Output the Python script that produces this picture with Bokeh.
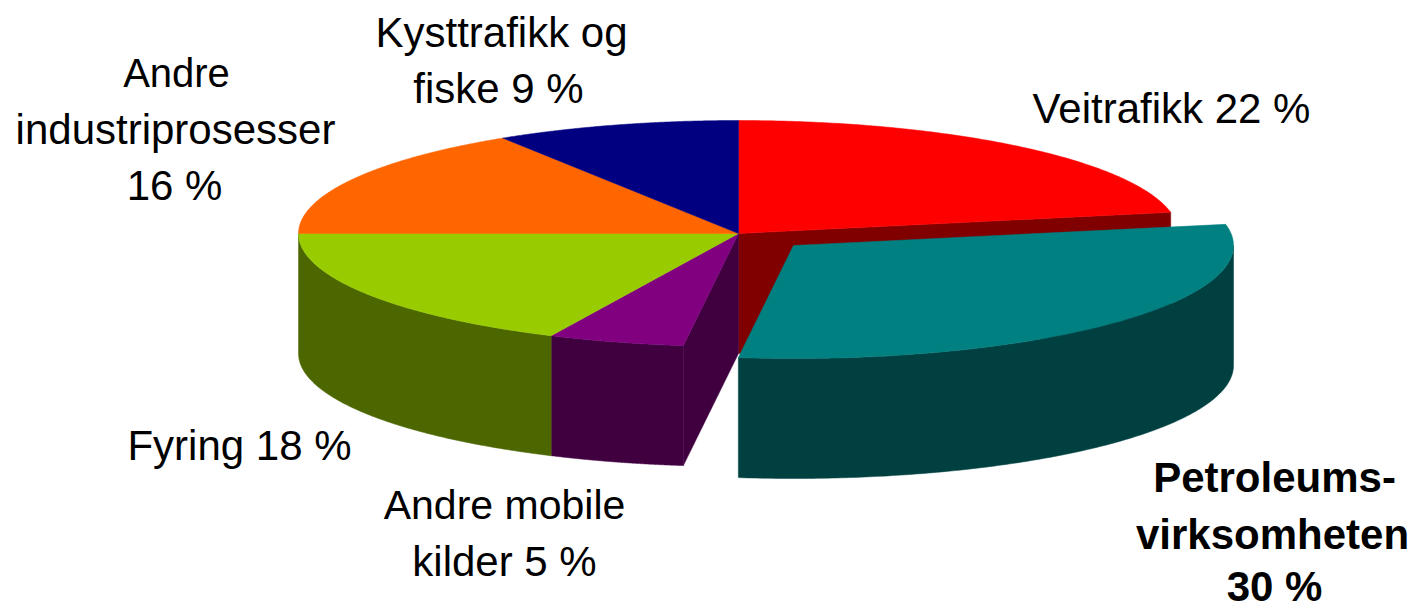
import numpy as np
from bokeh.plotting import figure
from bokeh.models import Range1d
from bokeh.core.properties import value
from bokeh.embed import file_html
from bokeh.resources import INLINE

# --- data, clockwise from 12 o'clock
categories = ["Veitrafikk", "Petroleumsvirksomheten", "Andre mobile kilder", "Fyring",
              "Andre industriprosesser", "Kysttrafikk og fiske"]
shares = [22, 30, 5, 18, 16, 9]
top_colors = ["#FF0000", "#008080", "#800080", "#99CC00", "#FF6600", "#000080"]
side_colors = ["#800000", "#004040", "#400040", "#4C6600", "#803300", "#000040"]
exploded = [False, True, False, False, False, False]

label_lines = ["Veitrafikk 22 %", "Petroleums-", "virksomheten", "30 %", "Andre mobile", "kilder 5 %",
               "Fyring 18 %", "Andre", "industriprosesser", "16 %", "Kysttrafikk og", "fiske 9 %"]
label_bold = [False, True, True, True, False, False, False, False, False, False, False, False]

# --- geometry / layout
W, H = 1415, 609
CX, CY, RX, RY, DEPTH = 738.0, 233.0, 440.0, 113.0, 120.0
EXPLODE = (55.0, 12.0)
label_x = [1171, 1274, 1272, 1274, 504, 504, 239, 176, 175, 174, 501, 498]
label_y = [108, 477, 534, 586, 504, 561, 445, 72, 129, 185, 32, 88]
label_size = ["42px", "42px", "42px", "42px", "41px", "42px", "42px", "40px", "42px", "42px", "42px", "42px"]

p = figure(width=W, height=H, output_backend="svg", toolbar_location=None,
           x_range=Range1d(0, W), y_range=Range1d(H, 0), min_border=0)
p.axis.visible = False
p.grid.visible = False
p.outline_line_color = None

frac = np.cumsum([0] + shares) / sum(shares) * 2 * np.pi


def rim(a, ox=0.0, oy=0.0, dz=0.0):
    return CX + ox + RX * np.sin(a), CY + oy - RY * np.cos(a) + dz


def add(xs, ys, color):
    p.patch(list(xs), list(ys), fill_color=color, line_color=color, line_width=0.5)


def radial_wall(a, color, ox=0.0, oy=0.0):
    rx, ry = rim(a, ox, oy)
    cx, cy = CX + ox, CY + oy
    add([cx, rx, rx, cx], [cy, ry, ry + DEPTH, cy + DEPTH], color)


def outer_wall(a0, a1, color, ox=0.0, oy=0.0):
    # only the part of the rim that faces the viewer
    lo, hi = max(a0, np.pi / 2), min(a1, 3 * np.pi / 2)
    if lo >= hi:
        return
    t = np.linspace(lo, hi, 160)
    x, y = rim(t, ox, oy)
    add(np.r_[x, x[::-1]], np.r_[y, y[::-1] + DEPTH], color)


def top(a0, a1, color, ox=0.0, oy=0.0):
    t = np.linspace(a0, a1, 160)
    x, y = rim(t, ox, oy)
    add(np.r_[CX + ox, x], np.r_[CY + oy, y], color)


n = len(shares)
# interior faces of the gap left by the exploded slice
for i in range(n):
    if exploded[i]:
        radial_wall(frac[i], side_colors[i - 1])
        radial_wall(frac[i + 1], side_colors[(i + 1) % n])
# rim walls and tops of the slices that stay in place
for i in range(n):
    if not exploded[i]:
        outer_wall(frac[i], frac[i + 1], side_colors[i])
for i in range(n):
    if not exploded[i]:
        top(frac[i], frac[i + 1], top_colors[i])
# the exploded slice goes last, in front of the rest
for i in range(n):
    if exploded[i]:
        outer_wall(frac[i], frac[i + 1], side_colors[i], *EXPLODE)
        top(frac[i], frac[i + 1], top_colors[i], *EXPLODE)

for x, y, s, b, fs in zip(label_x, label_y, label_lines, label_bold, label_size):
    p.text([x], [y], text=[s], text_font=value("Liberation Sans"), text_font_size=fs,
           text_color="#000000", text_align="center", text_baseline="middle",
           text_font_style="bold" if b else "normal")

html = file_html(p, INLINE)
html = html.replace("<head>", "<head><style>html,body{margin:0;padding:0;overflow:hidden}</style>", 1)
open("out.html", "w").write(html)
